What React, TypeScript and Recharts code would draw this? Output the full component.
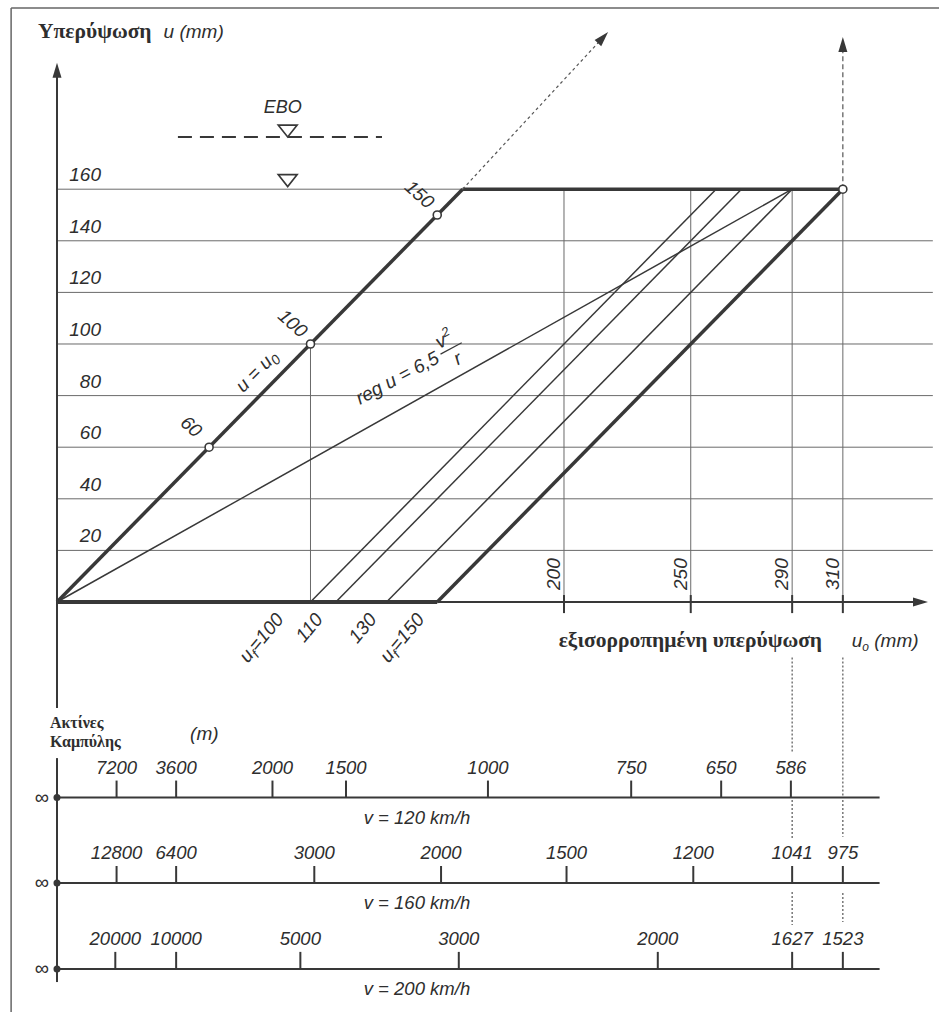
import React from 'react';
import { ComposedChart, XAxis, YAxis, ReferenceLine, Scatter } from 'recharts';

// ---------------- data ----------------
const uGrid = [20, 40, 60, 80, 100, 120, 140, 160];          // cant u (mm)
const u0Marks = [200, 250, 290, 310];                         // equilibrium cant u0 (mm)
const ufValues = [100, 110, 130, 150];                        // cant deficiency lines u_f
const ufLabels = ['100', '110', '130', '150'];
const diagPoints = [60, 100, 150];                            // marked points on u = u0
const uMax = 160;                                             // max cant
const regEndU0 = 290;                                         // reg u = 6,5 v²/r reaches u = 160 at u0 = 290
const u0Point100 = 100;                                       // vertical helper at u0 = 100

const speeds = ['120', '160', '200'];
const radii120 = ['7200', '3600', '2000', '1500', '1000', '750', '650', '586'];
const u0At120 = [23.5, 47, 85, 114, 170, 226.5, 262, 289.5];
const radii160 = ['12800', '6400', '3000', '2000', '1500', '1200', '1041', '975'];
const u0At160 = [23.5, 47, 101.5, 151.5, 201, 251, 290, 310];
const radii200 = ['20000', '10000', '5000', '3000', '2000', '1627', '1523'];
const u0At200 = [23, 47, 96, 158.5, 237, 290, 310];

// ---------------- layout ----------------
const W = 939;
const H = 1012;
const X_DOMAIN: [number, number] = [-22.485, 347.93];
const Y_DOMAIN: [number, number] = [-158.91, 233.33];
const SCALE_U = [-75.8, -108.9, -142.2];
const SCALE_END = 324.5;
const GRID_END = 345.5;

const SANS = '"Liberation Sans", Arial, Helvetica, sans-serif';
const SERIF = '"Liberation Serif", "Times New Roman", serif';
const INK = '#2e2e2e';
const LINE = '#383838';
const GRID = '#6a6a6a';

const seg = (key: string, x1: number, y1: number, x2: number, y2: number, stroke: string, w: number, dash?: string) => (
  <ReferenceLine
    key={key}
    segment={[{ x: x1, y: y1 }, { x: x2, y: y2 }]}
    stroke={stroke}
    strokeWidth={w}
    strokeDasharray={dash}
    ifOverflow="visible"
  />
);

const italic = { fontFamily: SANS, fontStyle: 'italic' as const, fill: INK };

export default function App() {
  const lines: React.ReactNode[] = [];
  // frame of the scanned page
  lines.push(seg('fl', -18.1, 230.2, -18.1, Y_DOMAIN[0], '#666', 1.5));
  lines.push(seg('ft', -18.1, 230.2, X_DOMAIN[1], 230.2, '#666', 1.5));
  // grid
  uGrid.forEach((u) =>
    lines.push(seg('g' + u, 0, u, u === uMax ? uMax : GRID_END, u, GRID, 1))
  );
  u0Marks.forEach((m) => lines.push(seg('v' + m, m, 0, m, uMax, GRID, 1)));
  lines.push(seg('v100', u0Point100, 0, u0Point100, u0Point100, GRID, 1));
  // axes
  lines.push(seg('ya', 0, 206, 0, -41.1, LINE, 2));
  lines.push(seg('yb', 0, -60.5, 0, -147.3, LINE, 2));
  lines.push(seg('xa', 0, 0, ufValues[3], 0, LINE, 4));
  lines.push(seg('xb', ufValues[3], 0, 340.5, 0, LINE, 2));
  u0Marks.forEach((m) => lines.push(seg('t' + m, m, 2.7, m, -4.3, LINE, 2)));
  // u = u0
  lines.push(seg('diag', 0, 0, uMax, uMax, LINE, 3.5));
  // top limit
  lines.push(seg('top', uMax, uMax, ufValues[3] + uMax, uMax, LINE, 3.5));
  // u_f lines
  ufValues.forEach((f, i) =>
    lines.push(seg('uf' + f, f, 0, f + uMax, uMax, LINE, i === 3 ? 3.5 : 1.5))
  );
  // reg line
  lines.push(seg('reg', 0, 0, regEndU0, uMax, LINE, 1.5));
  // dashed continuation arrows
  lines.push(seg('dd', uMax, uMax, 215.4, 218.8, '#555', 1.2, '3 3'));
  lines.push(seg('dv', 310, uMax, 310, 214, '#555', 1.2, '5 3'));
  // EBO dashed
  lines.push(seg('ebo', 47.7, 180.2, 128.2, 180.2, LINE, 2, '14 8'));
  // dotted projections to radius scales
  const dots: [number, number, number][] = [
    [290, -21.5, -58.1], [290, -76.7, -92.2], [290, -112.4, -125.2],
    [310, -21.5, -75.6], [310, -76.7, -91], [310, -112.8, -124],
  ];
  dots.forEach(([x, a, b], i) => lines.push(seg('dp' + i, x, a, x, b, '#555', 1.2, '2 2')));
  // radius scales
  SCALE_U.forEach((su, i) => lines.push(seg('sc' + i, 0, su, SCALE_END, su, LINE, 2)));

  // ---------- point data ----------
  const yLabelData = uGrid.map((u) => ({ x: 0, y: u, label: String(u) }));
  const xLabelData = u0Marks.map((m) => ({ x: m, y: 0, label: String(m) }));
  const ufDx = [-26, -12, -9, -12];
  const ufData = ufValues.map((f, i) => ({ x: f, y: 0, label: ufLabels[i], i }));
  const circleData = [
    ...diagPoints.map((p) => ({ x: p, y: p, label: String(p) })),
    { x: ufValues[3] + uMax, y: uMax, label: '' },
  ];
  const arrowData = [
    { x: 0, y: 209, angle: -90 },
    { x: 343.6, y: 0, angle: 0 },
    { x: 217.4, y: 220.9, angle: -47.2 },
    { x: 310, y: 219, angle: -90 },
  ];
  const eboData = [
    { x: 91, y: 180.2, label: 'EBO' },
    { x: 91, y: 161, label: '' },
  ];
  const scaleRows = [
    { radii: radii120, pos: u0At120 },
    { radii: radii160, pos: u0At160 },
    { radii: radii200, pos: u0At200 },
  ];
  const tickData = scaleRows.flatMap((r, ri) =>
    r.pos.map((p, i) => ({ x: p, y: SCALE_U[ri], label: r.radii[i] }))
  );
  const infData = SCALE_U.map((su) => ({ x: 0, y: su }));
  const speedData = SCALE_U.map((su, i) => ({ x: 142, y: su, label: speeds[i] }));
  const annData = [
    { x: -7.5, y: 218.6, id: 'title' },
    { x: 301.8, y: -17.6, id: 'xtitle' },
    { x: 313.5, y: -17.6, id: 'xunit' },
    { x: -2.8, y: -48.8, id: 'radii' },
    { x: 52.5, y: -53.5, id: 'm' },
    { x: 80.5, y: 87.8, id: 'ueq' },
    { x: 119.5, y: 76.4, id: 'reg' },
  ];

  const renderAnn = (p: any) => {
    const { cx, cy, payload } = p;
    switch (payload.id) {
      case 'title':
        return (
          <text x={cx} y={cy} fontFamily={SERIF} fontWeight="bold" fontSize={21.5} fill={INK}>
            Υπερύψωση
            <tspan dx={12} fontFamily={SANS} fontStyle="italic" fontWeight="normal" fontSize={19}>u (mm)</tspan>
          </text>
        );
      case 'xtitle':
        return (
          <text x={cx} y={cy} textAnchor="end" fontFamily={SERIF} fontWeight="bold" fontSize={21.5} fill={INK}>
            εξισορροπημένη υπερύψωση
          </text>
        );
      case 'xunit':
        return (
          <text x={cx} y={cy} fontSize={19} {...italic}>
            u<tspan dy={4} fontSize={12}>o</tspan><tspan dy={-4}> (mm)</tspan>
          </text>
        );
      case 'radii':
        return (
          <g>
            <text x={cx} y={cy} fontFamily={SERIF} fontWeight="bold" fontSize={16} fill={INK}>Ακτίνες</text>
            <text x={cx} y={cy + 19} fontFamily={SERIF} fontWeight="bold" fontSize={16} fill={INK}>Καμπύλης</text>
          </g>
        );
      case 'm':
        return <text x={cx} y={cy} fontSize={19} {...italic}>(m)</text>;
      case 'ueq':
        return (
          <text x={cx} y={cy} textAnchor="middle" fontSize={19} {...italic} transform={`rotate(-45 ${cx} ${cy})`}>
            u = u<tspan dy={4} fontSize={14}>0</tspan>
          </text>
        );
      case 'reg':
        return (
          <g transform={`translate(${cx},${cy}) rotate(-28)`}>
            <text x={0} y={0} fontSize={19} {...italic}>reg u = 6,5</text>
            <line x1={95} y1={-7} x2={119} y2={-7} stroke={LINE} strokeWidth={1.2} />
            <text x={105} y={-12} textAnchor="middle" fontSize={19} {...italic}>
              v<tspan dy={-8} fontSize={13}>2</tspan>
            </text>
            <text x={108} y={11} textAnchor="middle" fontSize={19} {...italic}>r</text>
          </g>
        );
      default:
        return <g />;
    }
  };

  return (
    <div style={{ position: 'absolute', left: 0, top: 0, width: W, height: H, background: '#ffffff' }}>
      <ComposedChart width={W} height={H} margin={{ top: 0, right: 0, bottom: 0, left: 0 }}>
        <XAxis type="number" dataKey="x" domain={X_DOMAIN} hide allowDataOverflow />
        <YAxis type="number" dataKey="y" domain={Y_DOMAIN} hide allowDataOverflow />
        {lines}
        <Scatter
          data={yLabelData}
          isAnimationActive={false}
          shape={(p: any) => (
            <text x={p.cx + 44} y={p.cy - 8} textAnchor="end" fontSize={19} {...italic}>{p.payload.label}</text>
          )}
        />
        <Scatter
          data={xLabelData}
          isAnimationActive={false}
          shape={(p: any) => (
            <text x={0} y={0} fontSize={19} {...italic} transform={`translate(${p.cx - 4},${p.cy - 12}) rotate(-90)`}>
              {p.payload.label}
            </text>
          )}
        />
        <Scatter
          data={ufData}
          isAnimationActive={false}
          shape={(p: any) => {
            const first = p.payload.i === 0 || p.payload.i === 3;
            return (
              <text x={0} y={0} textAnchor="end" fontSize={19} {...italic}
                transform={`translate(${p.cx + ufDx[p.payload.i]},${p.cy + 18}) rotate(-50)`}>
                {first ? (
                  <>
                    u<tspan dy={4} fontSize={13}>f</tspan><tspan dy={-4}>={p.payload.label}</tspan>
                  </>
                ) : p.payload.label}
              </text>
            );
          }}
        />
        <Scatter
          data={arrowData}
          isAnimationActive={false}
          shape={(p: any) => (
            <polygon points="0,0 -15,-4.5 -15,4.5" fill={LINE}
              transform={`translate(${p.cx},${p.cy}) rotate(${p.payload.angle})`} />
          )}
        />
        <Scatter
          data={eboData}
          isAnimationActive={false}
          shape={(p: any) => (
            <g>
              <polygon points={`${p.cx - 9.5},${p.cy - 12} ${p.cx + 9.5},${p.cy - 12} ${p.cx},${p.cy}`}
                fill="#fff" stroke={LINE} strokeWidth={1.6} />
              {p.payload.label ? (
                <text x={p.cx - 5} y={p.cy - 24} textAnchor="middle" fontSize={18} {...italic}>{p.payload.label}</text>
              ) : null}
            </g>
          )}
        />
        <Scatter
          data={circleData}
          isAnimationActive={false}
          shape={(p: any) => (
            <g>
              <circle cx={p.cx} cy={p.cy} r={4} fill="#fff" stroke={LINE} strokeWidth={1.6} />
              {p.payload.label ? (
                <text x={0} y={0} textAnchor="middle" fontSize={19} {...italic}
                  transform={`translate(${p.cx - 22},${p.cy - 16}) rotate(42)`}>
                  {p.payload.label}
                </text>
              ) : null}
            </g>
          )}
        />
        <Scatter
          data={tickData}
          isAnimationActive={false}
          shape={(p: any) => (
            <g>
              <line x1={p.cx} y1={p.cy} x2={p.cx} y2={p.cy - 17} stroke={LINE} strokeWidth={2} />
              <text x={p.cx} y={p.cy - 24} textAnchor="middle" fontSize={18.5} {...italic}>{p.payload.label}</text>
            </g>
          )}
        />
        <Scatter
          data={infData}
          isAnimationActive={false}
          shape={(p: any) => (
            <g>
              <circle cx={p.cx} cy={p.cy} r={3.5} fill={LINE} />
              <text x={p.cx - 8} y={p.cy + 6} textAnchor="end" fontSize={20} fontFamily={SANS} fill={INK}>∞</text>
            </g>
          )}
        />
        <Scatter
          data={speedData}
          isAnimationActive={false}
          shape={(p: any) => (
            <text x={p.cx} y={p.cy + 26} textAnchor="middle" fontSize={18.5} {...italic}>
              v = {p.payload.label} km/h
            </text>
          )}
        />
        <Scatter data={annData} isAnimationActive={false} shape={renderAnn} />
      </ComposedChart>
    </div>
  );
}
